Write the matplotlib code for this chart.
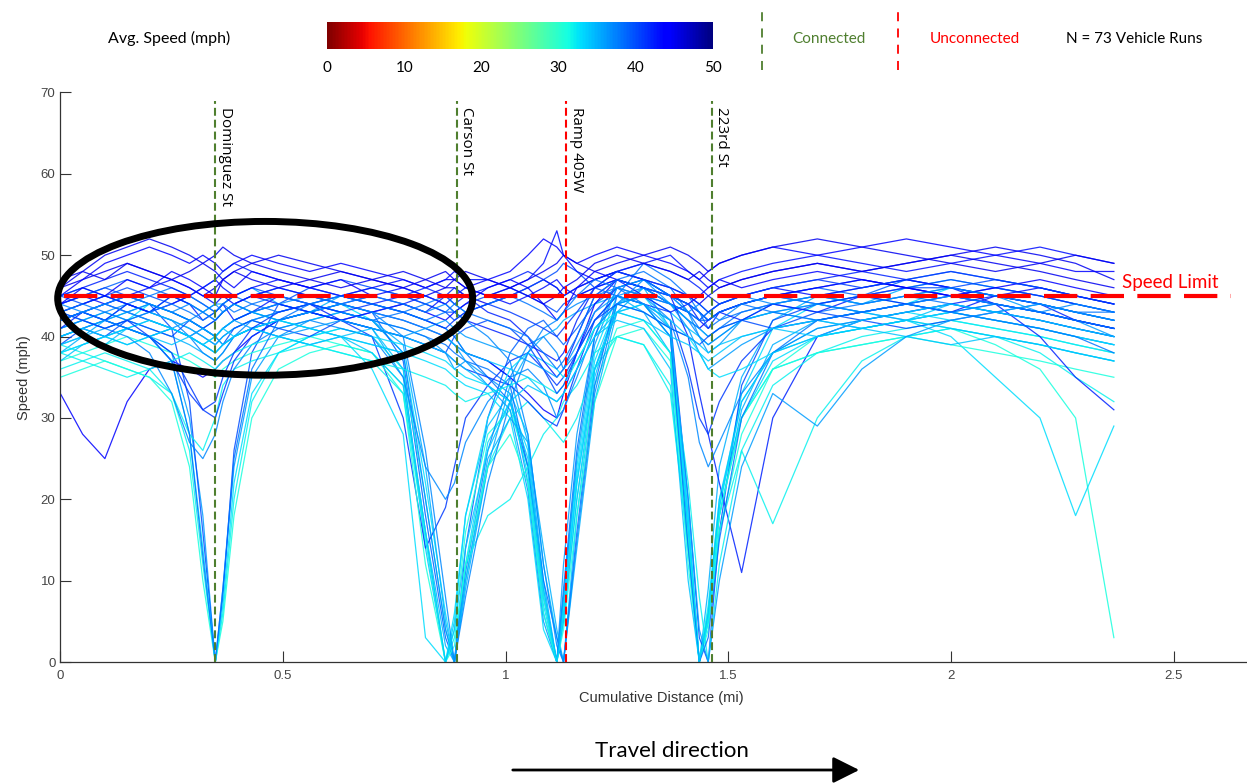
import matplotlib
matplotlib.use("Agg")
from matplotlib import pyplot as plt
from matplotlib.patches import Ellipse, FancyArrowPatch
from matplotlib.lines import Line2D
from matplotlib.colors import Normalize
from matplotlib.cm import ScalarMappable

# cumulative distance (mi) where every run was sampled
dist = [0.00, 0.05, 0.10, 0.15, 0.20, 0.25, 0.29, 0.32, 0.348, 0.365,
        0.39, 0.43, 0.49, 0.56, 0.63, 0.70, 0.77, 0.82, 0.865, 0.885,
        0.91, 0.96, 1.01, 1.05, 1.085, 1.115, 1.13, 1.16, 1.20, 1.25,
        1.31, 1.37, 1.41, 1.435, 1.455, 1.48, 1.53, 1.60, 1.70, 1.80,
        1.90, 2.00, 2.10, 2.20, 2.28, 2.366]

# speed (mph) of each vehicle run at those distances
run01 = [41,42,43,42,44,43,42,41,42,43,44,43,42,43,44,42,38,22,6,0,12,27,32,26,9,0,8,24,38,45,44,40,16,0,6,19,33,41,44,45,44,46,45,44,43,42]
run02 = [38,40,42,44,43,45,44,43,44,44,45,46,44,43,45,44,43,42,41,40,38,37,35,27,10,0,6,22,36,44,46,41,18,0,9,24,35,42,45,44,46,47,46,45,44,43]
run03 = [44,45,46,47,46,45,44,43,42,43,44,45,46,45,44,43,37,18,3,0,14,30,38,41,42,40,39,41,44,46,45,44,43,42,42,43,44,45,46,45,47,48,47,46,45,44]
run04 = [46,47,48,49,48,47,46,45,46,47,48,47,46,47,48,47,46,45,46,46,45,44,45,46,47,46,45,46,47,48,47,46,45,44,45,46,47,48,49,48,49,50,51,50,49,47]
run05 = [40,41,42,41,40,38,30,18,0,9,24,35,40,42,43,42,41,40,38,36,37,35,33,22,6,0,12,28,40,46,47,45,43,40,38,39,42,44,45,44,45,46,45,43,42,40]
run06 = [36,37,38,37,36,33,26,12,0,6,20,32,38,40,41,40,36,20,4,0,10,24,30,32,30,28,27,30,36,40,39,33,14,0,7,20,30,36,38,39,40,41,40,38,35,32]
run07 = [42,43,42,43,44,43,42,41,40,41,42,43,44,43,42,41,36,14,0,5,18,29,33,28,12,3,0,18,35,44,45,43,41,40,39,40,42,43,44,43,42,44,43,42,41,40]
run08 = [45,44,45,46,45,44,45,44,43,44,45,46,45,44,45,46,45,44,43,42,43,44,45,46,47,48,49,48,46,45,44,42,20,3,0,16,34,42,44,45,46,46,47,46,45,44]
run09 = [45,47,49,50,51,50,49,50,49,48,49,50,49,48,49,48,47,46,47,47,46,47,48,50,52,51,50,49,50,51,50,49,48,47,48,49,50,51,50,51,52,51,50,49,48,48]
run10 = [43,44,45,44,43,42,41,40,39,40,41,42,43,44,43,42,41,40,39,38,37,36,34,24,8,0,9,26,40,47,48,46,43,41,40,41,43,44,43,44,45,44,43,44,43,42]
run11 = [39,40,41,42,41,40,39,38,37,38,40,41,42,43,42,41,35,16,2,0,9,24,34,38,40,41,42,43,44,45,43,38,16,0,5,18,31,39,42,43,42,43,44,43,42,41]
run12 = [44,45,46,45,44,41,32,16,0,8,26,38,44,46,47,46,45,44,43,43,44,45,46,45,44,43,44,45,46,47,46,45,44,43,42,43,44,45,46,47,46,47,46,45,44,43]
run13 = [42,43,44,45,44,43,42,41,40,41,42,43,44,43,42,40,30,14,19,24,30,34,37,38,36,34,35,38,43,46,47,45,44,43,42,43,44,45,44,45,46,45,46,45,44,43]
run14 = [37,38,39,40,39,38,37,36,35,36,37,38,39,40,39,38,33,12,0,4,16,28,31,24,8,0,5,20,34,41,42,38,12,0,4,16,28,36,40,41,42,41,39,36,30,3]
run15 = [40,41,40,39,40,41,40,39,38,39,40,41,42,41,40,39,38,37,36,35,34,33,30,20,4,0,7,23,37,44,45,41,18,0,5,18,30,37,40,41,42,40,35,30,18,29]
run16 = [33,28,25,32,36,37,36,35,36,37,38,40,42,43,44,43,42,41,40,39,38,37,35,33,31,30,33,38,44,47,46,44,42,41,42,43,44,45,46,47,46,45,44,43,42,41]
run17 = [41,42,43,44,43,42,40,38,37,38,40,42,43,44,43,42,38,20,4,0,11,26,35,39,40,38,36,38,42,45,46,44,42,40,39,40,42,43,44,43,44,45,44,43,42,41]
run18 = [45,46,45,44,45,46,45,44,43,44,45,44,43,44,45,44,43,42,41,40,38,35,32,24,10,3,0,16,34,45,49,47,45,43,41,42,43,44,45,46,47,46,45,44,43,43]
run19 = [38,39,40,41,40,37,28,14,0,7,22,33,38,40,41,40,39,38,37,36,35,34,32,23,7,0,6,22,36,43,44,40,17,0,6,19,32,38,41,42,43,42,41,40,39,38]
run20 = [44,45,44,45,46,47,46,45,44,45,44,45,46,45,44,45,46,45,44,45,46,45,44,45,46,47,46,45,46,47,46,44,43,42,43,44,45,46,45,46,47,46,45,46,45,44]
run21 = [43,42,41,42,43,42,41,40,39,40,41,42,41,42,43,42,39,24,5,0,10,25,30,27,14,4,0,14,32,43,46,44,42,41,40,41,42,43,42,43,44,43,42,41,40,39]
run22 = [42,43,44,43,42,41,40,41,42,43,44,45,44,43,42,43,44,45,44,43,42,41,40,39,38,37,38,42,46,48,47,45,40,33,28,22,11,30,40,42,43,44,45,44,43,42]
run23 = [39,38,37,36,35,33,28,26,30,34,36,37,38,39,38,37,33,15,0,3,12,18,20,24,28,30,32,34,38,40,39,34,14,0,5,16,26,34,38,40,41,42,41,40,39,38]
run24 = [42,43,42,41,40,38,34,31,30,33,37,40,42,43,42,41,40,39,38,37,36,35,34,32,30,29,31,36,42,45,44,43,36,30,28,32,37,41,42,43,44,45,44,43,42,41]
run25 = [40,41,42,43,42,41,40,39,38,39,40,41,42,43,44,43,42,41,40,39,37,34,31,21,5,0,8,25,39,46,47,44,41,38,36,37,39,41,42,41,42,43,42,41,40,39]
run26 = [35,36,37,36,35,32,24,10,0,5,18,30,36,38,39,38,34,16,0,2,12,24,28,22,6,0,4,18,32,40,41,37,15,0,6,18,30,36,38,39,40,39,38,37,36,35]
run27 = [43,44,45,44,43,44,45,46,47,46,45,46,47,46,45,46,47,46,47,48,47,47,46,47,49,53,50,48,47,48,49,50,48,47,46,47,48,49,50,49,48,49,50,51,50,49]
run28 = [38,39,40,41,42,41,40,39,40,41,42,43,42,41,40,36,28,3,0,6,18,30,36,38,37,36,35,37,41,44,43,41,40,38,36,35,36,38,40,41,42,43,42,41,40,39]
run29 = [41,42,41,40,38,33,27,25,28,32,36,39,41,42,41,40,35,24,20,22,27,32,35,36,34,30,31,35,41,44,45,42,35,27,24,27,33,38,41,42,43,44,43,42,41,40]
run30 = [45,46,47,48,47,46,45,46,47,48,49,48,47,46,45,44,45,46,45,44,45,46,47,48,47,46,45,46,47,48,49,48,47,46,45,44,45,46,47,48,47,46,44,40,35,31]
run31 = [38,37,36,35,36,37,38,37,36,37,38,39,40,39,38,37,36,35,34,33,32,33,34,35,34,33,34,37,41,43,42,38,22,8,0,12,26,17,30,37,40,41,40,39,38,37]
run32 = [41,43,42,44,43,45,44,42,43,44,42,43,45,44,42,43,44,43,45,46,45,43,42,40,37,35,36,40,45,47,45,43,44,42,41,43,42,44,43,45,44,43,45,44,42,41]
run33 = [44,46,45,47,46,48,47,46,45,47,46,48,47,46,47,45,44,43,42,43,44,46,47,46,44,42,43,46,48,47,46,45,44,45,46,47,46,47,48,47,46,45,46,47,46,45]
run34 = [39,41,40,42,41,40,42,41,40,39,41,42,41,40,42,41,40,39,38,40,41,42,41,39,36,33,34,38,42,44,43,41,40,39,40,41,42,41,43,42,41,42,43,42,41,40]
run35 = [47,48,47,49,48,47,48,49,48,47,48,49,48,47,46,47,48,47,46,47,48,47,46,45,44,45,46,47,49,50,49,48,47,48,47,46,47,48,49,48,49,50,49,48,47,46]
run36 = [42,43,44,43,44,43,42,43,44,43,44,43,42,43,44,45,44,43,44,43,42,40,37,28,12,2,0,15,33,44,47,45,43,42,43,42,44,45,44,43,44,45,44,43,44,43]
run37 = [39,40,39,41,40,39,40,41,40,39,40,41,40,39,40,41,40,39,38,37,36,34,32,25,9,0,5,20,36,43,44,42,40,39,38,39,40,41,40,41,40,39,40,39,38,37]
run38 = [43,44,43,42,43,44,43,42,43,44,43,44,45,44,43,42,43,44,45,44,43,44,45,44,43,42,43,45,47,46,44,40,14,0,3,15,30,38,42,43,44,43,44,43,42,41]
run39 = [40,41,42,41,40,41,42,41,40,41,42,41,40,41,42,41,40,41,42,41,40,39,38,37,36,35,36,39,43,45,44,41,20,4,0,10,24,33,29,36,40,42,43,44,43,42]
run40 = [37,39,40,41,42,41,40,39,38,39,40,41,42,41,40,39,38,39,40,39,38,37,36,35,33,32,33,36,40,42,41,36,10,0,6,20,32,38,40,42,43,44,43,42,41,40]
run41 = [44,43,44,45,44,43,44,43,42,43,44,43,44,45,44,43,40,26,8,0,8,22,32,38,41,42,43,44,45,46,45,44,43,44,43,44,45,44,45,44,45,46,45,44,43,42]
run42 = [40,41,40,39,40,41,40,39,40,41,40,41,40,39,40,38,34,16,0,4,14,26,32,34,33,32,33,36,40,43,42,40,39,38,37,38,40,41,42,41,42,41,40,39,38,37]
run43 = [43,42,41,42,40,37,33,31,32,35,38,41,43,44,43,44,43,42,41,42,43,44,43,42,41,40,41,43,46,48,47,46,45,44,43,44,45,46,47,46,47,48,47,46,45,44]
run44 = [46,48,50,51,52,51,50,49,50,51,50,49,50,49,48,47,46,47,48,47,46,45,46,47,48,49,50,49,48,49,50,51,50,49,48,49,50,51,52,51,50,49,48,49,50,49]
run45 = [42,43,42,41,40,37,28,13,0,9,25,36,42,44,45,44,43,42,43,44,43,42,41,40,38,36,37,40,45,47,46,45,44,43,42,43,44,43,42,43,44,43,42,41,40,38]

runs = [run01, run02, run03, run04, run05, run06, run07, run08, run09, run10,
        run11, run12, run13, run14, run15, run16, run17, run18, run19, run20,
        run21, run22, run23, run24, run25, run26, run27, run28, run29, run30,
        run31, run32, run33, run34, run35, run36, run37, run38, run39, run40,
        run41, run42, run43, run44, run45]

# average speed of each run (mph), sets the line colour
avg_speed = [33, 35, 39, 45, 36, 32, 34, 40, 44, 38, 35, 40, 41, 31, 33, 44,
             37, 38, 33, 43, 35, 42, 32, 41, 36, 31, 43, 33, 37, 42, 32,
             42, 44, 40, 45, 37, 34, 38, 36, 34, 37, 34, 41, 45, 38]

markers = [0.348, 0.890, 1.136, 1.463]
marker_names = ["Dominguez St", "Carson St", "Ramp 405W", "223rd St"]
marker_connected = [True, True, False, True]
speed_limit = 45

xticks = [0, 0.5, 1, 1.5, 2, 2.5]
xticklabels = ["0", "0.5", "1", "1.5", "2", "2.5"]
yticks = [0, 10, 20, 30, 40, 50, 60, 70]
cbar_ticks = [0, 10, 20, 30, 40, 50]

green = "#4f7f2f"
calibri = ["Lato", "DejaVu Sans"]
arial = ["Liberation Sans", "DejaVu Sans"]

fig = plt.figure(figsize=(12.47, 7.83), dpi=100)
fig.patch.set_facecolor("white")
ax = fig.add_axes([0.0484, 0.1545, 0.9516, 0.7274])

cmap = plt.get_cmap("jet_r")
norm = Normalize(0, 50)

for speeds, avg in zip(runs, avg_speed):
    ax.plot(dist, speeds, color=cmap(norm(avg)), lw=0.9, alpha=0.85, zorder=2)

# intersections
for m, name, conn in zip(markers, marker_names, marker_connected):
    col = green if conn else "red"
    ax.axvline(m, ymin=0, ymax=69 / 70, color=col, lw=1.5, ls=(0, (3.8, 1.9)), zorder=3)
    ax.text(m + 0.006, 68.2, name, rotation=-90, ha="left", va="top",
            fontsize=11, family=["Open Sans", "DejaVu Sans"], color="black")

# speed limit
ax.hlines(speed_limit, 0.008, 2.63, colors="red", lw=3, linestyles=(0, (8, 3.2)),
          zorder=5, clip_on=False)
ax.text(2.384, 46.7, "Speed Limit", color="red", fontsize=13.5, family=calibri,
        ha="left", va="center")

ax.add_patch(Ellipse((0.46, 44.7), 0.932, 18.9, fill=False, ec="black", lw=5,
                     zorder=6, clip_on=False))

ax.set_xlim(0, 2.665)
ax.set_ylim(0, 70)
ax.set_xticks(xticks)
ax.set_xticklabels(xticklabels)
ax.set_yticks(yticks)
for s in ["top", "right"]:
    ax.spines[s].set_visible(False)
for s in ["left", "bottom"]:
    ax.spines[s].set_color("#333333")
    ax.spines[s].set_linewidth(0.9)
ax.tick_params(direction="in", length=8, width=0.8, color="#333333",
               labelcolor="#444444", labelsize=9.5)
ax.tick_params(axis="x", pad=6)
for lab in ax.get_xticklabels() + ax.get_yticklabels():
    lab.set_family(arial)

ax.set_xlabel("Cumulative Distance (mi)", fontsize=10.5, color="#333333", family=arial, va="center")
ax.xaxis.set_label_coords(0.5066, -0.063)
ax.set_ylabel("Speed (mph)", fontsize=10.5, color="#333333", family=arial, va="center")
ax.yaxis.set_label_coords(-0.0306, 0.499)

# header: colour scale and legend
fig.text(169 / 1247, 1 - 38 / 783, "Avg. Speed (mph)", ha="center", va="center",
         fontsize=11.5, family=calibri)
cax = fig.add_axes([327 / 1247, 1 - 49 / 783, 386 / 1247, 27 / 783])
cb = fig.colorbar(ScalarMappable(norm=norm, cmap=cmap), cax=cax, orientation="horizontal")
cb.outline.set_visible(False)
cb.set_ticks(cbar_ticks)
cax.tick_params(length=0, pad=9, labelsize=11)
for lab in cax.get_xticklabels():
    lab.set_family(calibri)

fig.add_artist(Line2D([762 / 1247, 762 / 1247], [1 - 70 / 783, 1 - 8 / 783],
                      color=green, lw=1.3, ls=(0, (5, 4))))
fig.text(829 / 1247, 1 - 39 / 783, "Connected", ha="center", va="center",
         fontsize=11, family=calibri, color=green)
fig.add_artist(Line2D([898 / 1247, 898 / 1247], [1 - 70 / 783, 1 - 5 / 783],
                      color="red", lw=1.3, ls=(0, (5, 4))))
fig.text(975 / 1247, 1 - 39 / 783, "Unconnected", ha="center", va="center",
         fontsize=11, family=calibri, color="red")
fig.text(1134 / 1247, 1 - 39 / 783, "N = 73 Vehicle Runs", ha="center", va="center",
         fontsize=11, family=calibri, color="black")

# travel direction arrow
fig.text(672 / 1247, 1 - 751 / 783, "Travel direction", ha="center", va="center",
         fontsize=16, family=calibri)
fig.add_artist(FancyArrowPatch(
    (510 / 1247, 1 - 770 / 783), (862 / 1247, 1 - 770 / 783),
    transform=fig.transFigure, arrowstyle="-|>,head_length=0.9,head_width=0.45",
    mutation_scale=18, lw=2, color="black"))

fig.savefig("out.png", dpi=100)
